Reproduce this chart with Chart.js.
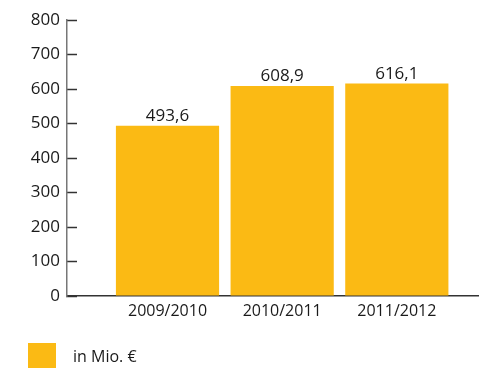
<!DOCTYPE html>
<html>
<head>
<meta charset="utf-8">
<script src="https://cdn.jsdelivr.net/npm/chart.js@4"></script>
<style>
  html, body { margin: 0; padding: 0; background: #fff; }
  #wrap { position: relative; width: 479px; height: 368px; overflow: hidden; }
  #legend { position: absolute; left: 28px; top: 343px; display: flex; align-items: center; font-family: "Open Sans", sans-serif; font-size: 16px; font-weight: 500; color: #1a1a1a; }
  #legend .box { width: 28px; height: 25px; background: #FBBA14; margin-right: 17px; }
</style>
</head>
<body>
<div id="wrap">
  <canvas id="c" width="479" height="368"></canvas>
  <div id="legend"><span class="box"></span><span>in Mio. €</span></div>
</div>
<script>
const categories = ['2009/2010', '2010/2011', '2011/2012'];
const values = [493.6, 608.9, 616.1];
const seriesName = 'in Mio. €';
const yTicks = [0, 100, 200, 300, 400, 500, 600, 700, 800];

const FONT = '"Open Sans", sans-serif';
const fmt = v => v.toFixed(1).replace('.', ',');

const valueLabels = {
  id: 'valueLabels',
  afterDatasetsDraw(chart) {
    const ctx = chart.ctx;
    const meta = chart.getDatasetMeta(0);
    ctx.save();
    ctx.font = '500 17px ' + FONT;
    ctx.fillStyle = '#1a1a1a';
    ctx.textAlign = 'center';
    ctx.textBaseline = 'bottom';
    meta.data.forEach((bar, i) => {
      ctx.fillText(fmt(values[i]), bar.x, bar.y - 1);
    });
    ctx.restore();
  }
};

new Chart(document.getElementById('c'), {
  type: 'bar',
  data: {
    datasets: [{
      label: seriesName,
      data: values.map((v, i) => ({ x: i, y: v })),
      backgroundColor: '#FBBA14',
      borderWidth: 0,
      barPercentage: 0.9,
      categoryPercentage: 1.0
    }]
  },
  options: {
    responsive: false,
    animation: false,
    layout: { padding: { top: 20, right: 1, bottom: 42, left: 0 } },
    plugins: { legend: { display: false }, tooltip: { enabled: false } },
    scales: {
      x: {
        type: 'linear',
        offset: false,
        min: -0.8766,
        max: 2.708,
        afterBuildTicks: s => { s.ticks = categories.map((c, i) => ({ value: i })); },
        afterFit: s => { s.height = 30; s.paddingLeft = 0; s.paddingRight = 0; },
        grid: { display: false, drawTicks: false },
        border: { display: true, color: '#333', width: 1.5 },
        ticks: {
          padding: 6,
          color: '#1a1a1a',
          font: { family: FONT, size: 16, weight: 500 },
          callback: (v) => categories[v] ?? ''
        }
      },
      y: {
        min: 0,
        max: 800,
        afterBuildTicks: s => { s.ticks = yTicks.map(v => ({ value: v })); },
        afterFit: s => { s.width = 67; s.paddingTop = 0; s.paddingBottom = 0; },
        grid: { display: true, drawOnChartArea: false, drawTicks: true, tickLength: -10, tickColor: '#333', tickWidth: 1.5 },
        border: { display: true, color: '#777', width: 1.5 },
        ticks: {
          padding: 17,
          color: '#1a1a1a',
          font: { family: FONT, size: 17, weight: 500 }
        }
      }
    }
  },
  plugins: [valueLabels]
});
</script>
</body>
</html>
